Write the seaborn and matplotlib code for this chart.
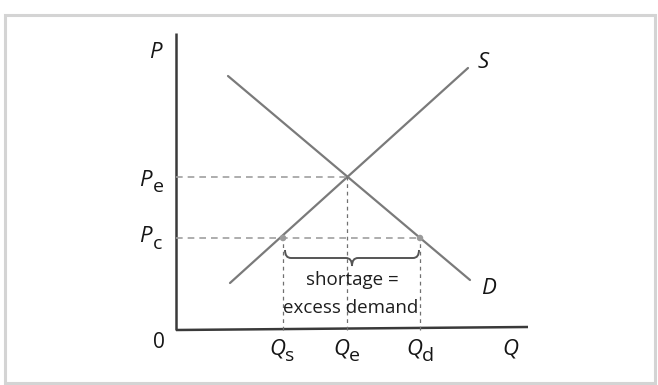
import matplotlib
matplotlib.use("Agg")
import matplotlib.pyplot as plt
from matplotlib.patches import Rectangle, PathPatch
from matplotlib.path import Path
import pandas as pd
import seaborn as sns

# Price-ceiling model (quantity, price) in diagram units
supply_q = [54, 292]
supply_p = [47, 262]
demand_q = [52, 294]
demand_p = [254, 50]

q_axis_end = 352
p_axis_end = 297

price_eq = 153      # Pe
price_ceiling = 92  # Pc
qty_supplied = 107  # Qs
qty_eq = 171        # Qe
qty_demanded = 244  # Qd

sns.set_theme(style="white")
plt.rcParams["font.family"] = ["Open Sans", "DejaVu Sans"]

fig = plt.figure(figsize=(6.58, 3.85), dpi=100)
ax = fig.add_axes([0, 0, 1, 1])
ax.set_xlim(-176, 482)
ax.set_ylim(-55, 330)
ax.axis("off")

# outer frame
fig.patches.append(Rectangle((5 / 658, 2 / 385), 650 / 658, 368 / 385,
                             transform=fig.transFigure, fill=False,
                             edgecolor="#d4d4d4", linewidth=2.2))

curve_col = "#7a7a7a"
dash_col = "#a0a0a0"

lines = pd.DataFrame({
    "Q": supply_q + demand_q,
    "P": supply_p + demand_p,
    "curve": ["S", "S", "D", "D"],
})
sns.lineplot(data=lines, x="Q", y="P", hue="curve", units="curve",
             estimator=None, palette={"S": curve_col, "D": curve_col},
             linewidth=1.6, legend=False, ax=ax, sort=False)

# axes
ax.plot([0, 0], [0, p_axis_end], color="#3a3a3a", linewidth=1.8,
        solid_capstyle="butt")
ax.plot([0, q_axis_end], [0, 3], color="#3a3a3a", linewidth=1.8,
        solid_capstyle="butt")

# guide lines
ax.plot([0, qty_eq], [price_eq, price_eq], color=dash_col, lw=1.2,
        dashes=(4, 3))
ax.plot([0, qty_demanded], [price_ceiling, price_ceiling], color=dash_col,
        lw=1.2, dashes=(4, 3))
for q, top in [(qty_supplied, price_ceiling), (qty_eq, price_eq),
               (qty_demanded, price_ceiling)]:
    ax.plot([q, q], [0, top], color="#707070", lw=0.9, dashes=(3, 3))

sns.scatterplot(x=[qty_supplied, qty_demanded],
                y=[price_ceiling, price_ceiling], color="#9a9a9a", s=22,
                edgecolor="none", ax=ax, zorder=5)

# curly brace under the ceiling price
x0, x1 = qty_supplied + 2, qty_demanded - 1
xm = (x0 + x1) / 2
yt, yb, ytip = price_ceiling - 12, price_ceiling - 20, price_ceiling - 28
verts = [
    (x0, yt), (x0, yb), (x0 + 6, yb), (x0 + 6, yb),
    (xm - 6, yb),
    (xm, yb), (xm, ytip),
    (xm, yb), (xm + 6, yb),
    (x1 - 6, yb),
    (x1, yb), (x1, yt),
]
codes = [Path.MOVETO, Path.CURVE3, Path.CURVE3, Path.LINETO,
         Path.LINETO, Path.CURVE3, Path.CURVE3, Path.CURVE3, Path.CURVE3,
         Path.LINETO, Path.CURVE3, Path.CURVE3]
ax.add_patch(PathPatch(Path(verts, codes), fill=False, edgecolor="#555555",
                       linewidth=1.4))

ax.text(xm, 50, "shortage =", ha="center", va="center", color="#1e1e1e",
        fontsize=13.5)
ax.text(xm - 1, 22, "excess demand", ha="center", va="center",
        color="#1e1e1e", fontsize=13.5)

ink = "#151515"


def symbol(x, y, letter, sub=None):
    """Italic letter centred at (x, y) with an optional upright subscript."""
    t = ax.text(x, y, letter, ha="center", va="center", style="italic",
                color=ink, fontsize=16)
    if sub:
        ax.annotate(sub, xy=(x, y), xytext=(5.5, -5), textcoords="offset points",
                    ha="left", va="center", color=ink, fontsize=14)
    return t


symbol(-21, 278, "P")
symbol(307, 268, "S")
symbol(312, 41, "D")
symbol(-31, 150, "P", "e")
symbol(-31, 93, "P", "c")
ax.text(-17, -12, "0", ha="center", va="center", color=ink, fontsize=15)
symbol(qty_supplied - 6, -19, "Q", "s")
symbol(qty_eq - 6, -19, "Q", "e")
symbol(qty_demanded - 6, -19, "Q", "d")
symbol(334, -19, "Q")

fig.savefig("out.png", dpi=100)
